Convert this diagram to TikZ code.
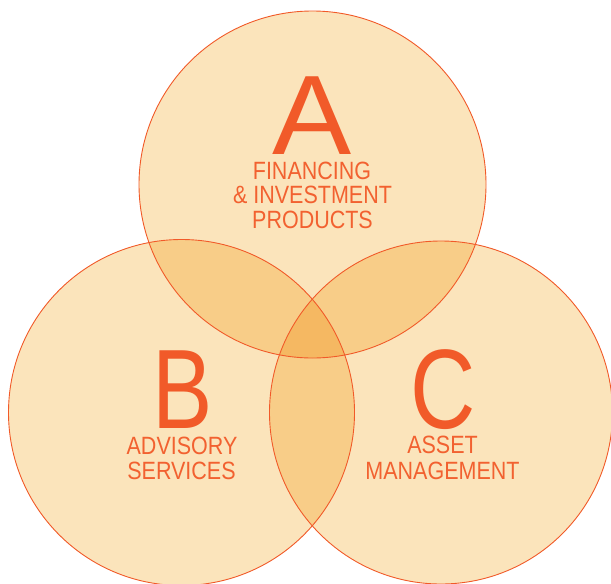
\documentclass[tikz,border=0pt]{standalone}
\usepackage{fontspec}
\setmainfont{Liberation Sans}
\newfontfamily\condfont[FakeStretch=0.86]{Liberation Sans}
\definecolor{basefill}{HTML}{FBE4BB}
\definecolor{dblfill}{HTML}{F8CD88}
\definecolor{trifill}{HTML}{F5B862}
\definecolor{ringcol}{HTML}{F15A29}
\definecolor{txtcol}{HTML}{F26130}
\definecolor{bigcol}{HTML}{F15A29}
\tikzset{
  ring/.style={draw=ringcol, line width=0.9pt},
  lbl/.style={font=\condfont\fontsize{25}{25}\selectfont, text=txtcol, inner sep=0pt, anchor=base, text height=18pt, text depth=0pt},
  big/.style={font=\fontsize{113}{113}\selectfont, text=bigcol, inner sep=0pt, anchor=base, text height=81pt, text depth=0pt}
}
\begin{document}
\begin{tikzpicture}[x=1pt,y=-1pt]
\useasboundingbox (0,0) rectangle (611,584);
\coordinate (cA) at (312.5,184.5);
\coordinate (cB) at (181.5,412.5);
\coordinate (cC) at (441,412.5);
\def\rA{173.5pt}\def\rB{173pt}\def\rC{171.5pt}
% base fills
\fill[basefill] (cA) circle[radius=\rA];
\fill[basefill] (cB) circle[radius=\rB];
\fill[basefill] (cC) circle[radius=\rC];
% pairwise overlaps
\begin{scope}
  \clip (cA) circle[radius=\rA];
  \fill[dblfill] (cB) circle[radius=\rB];
  \fill[dblfill] (cC) circle[radius=\rC];
\end{scope}
\begin{scope}
  \clip (cB) circle[radius=\rB];
  \fill[dblfill] (cC) circle[radius=\rC];
\end{scope}
% triple overlap
\begin{scope}
  \clip (cA) circle[radius=\rA];
  \clip (cB) circle[radius=\rB];
  \fill[trifill] (cC) circle[radius=\rC];
\end{scope}
% outlines
\draw[ring] (cA) circle[radius=\rA];
\draw[ring] (cB) circle[radius=\rB];
\draw[ring] (cC) circle[radius=\rC];
% letters
\node[big] (lA) at (312.5,154) {\scalebox{1.05}[1]{A}};
\node[big] (lB) at (183,428) {\scalebox{0.8}[1]{B}};
\node[big] (lC) at (443,428) {\scalebox{0.8}[1]{C}};
% labels
\node[lbl] (a1) at (312,179) {FINANCING};
\node[lbl] (a2) at (312.5,203) {\&\ INVESTMENT};
\node[lbl] (a3) at (312.5,228.5) {PRODUCTS};
\node[lbl] (b1) at (182,454) {ADVISORY};
\node[lbl] (b2) at (181.5,479) {SERVICES};
\node[lbl] (c1) at (442.5,453.5) {ASSET};
\node[lbl] (c2) at (442.5,479) {MANAGEMENT};
\end{tikzpicture}
\end{document}
